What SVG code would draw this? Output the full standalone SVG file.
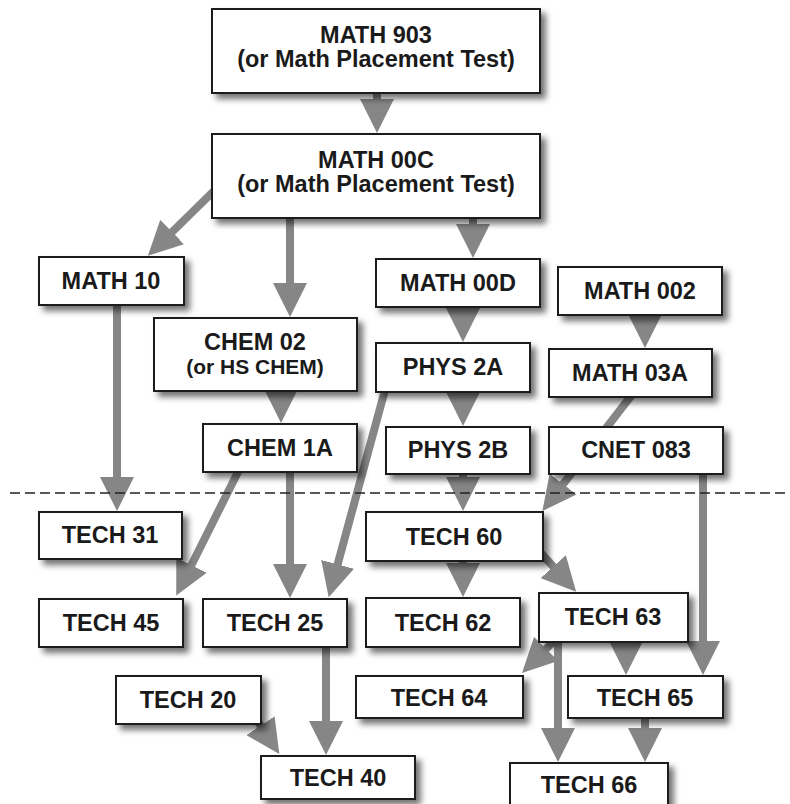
<svg xmlns="http://www.w3.org/2000/svg" width="790" height="804" viewBox="0 0 790 804">
<style>
.box{fill:#fff;stroke:#1e1e1e;stroke-width:2;filter:url(#sh)}
.t{font-family:"Liberation Sans",Arial,sans-serif;font-weight:bold;font-size:23.5px;fill:#1a1a1a;text-anchor:middle}
.s{font-size:21px}
.c line{stroke:#868686;stroke-width:8;marker-end:url(#ah)}
.sep{stroke:#222;stroke-width:1.6;stroke-dasharray:10 5;fill:none}
</style>
<defs>
<filter id="sh" x="-20%" y="-30%" width="150%" height="170%">
<feDropShadow dx="5" dy="5" stdDeviation="3" flood-color="#000" flood-opacity="0.55"/>
</filter>
<marker id="ah" markerUnits="userSpaceOnUse" markerWidth="34" markerHeight="34" viewBox="0 0 34 34" refX="10" refY="17" orient="auto">
<path d="M0,0 L34,17 L0,34 z" fill="#868686"/>
</marker>
</defs>
<rect width="790" height="804" fill="#fff"/>
<g id="connectors" class="c">
<line x1="377" y1="93" x2="377" y2="109"/>
<line x1="225" y1="180" x2="165" y2="239"/>
<line x1="290" y1="218" x2="290" y2="293"/>
<line x1="473" y1="218" x2="473" y2="234"/>
<line x1="117" y1="305" x2="117" y2="487"/>
<line x1="463" y1="307" x2="463" y2="318"/>
<line x1="645" y1="315" x2="645" y2="324"/>
<line x1="281" y1="391" x2="281" y2="399"/>
<line x1="463" y1="392" x2="463" y2="402"/>
<line x1="634" y1="392" x2="557" y2="492"/>
<line x1="463" y1="474" x2="463" y2="487"/>
<line x1="703" y1="474" x2="703" y2="651"/>
<line x1="240" y1="468" x2="187" y2="574"/>
<line x1="290" y1="472" x2="290" y2="574"/>
<line x1="385" y1="390" x2="335" y2="574"/>
<line x1="463" y1="561" x2="463" y2="573"/>
<line x1="530" y1="541" x2="560" y2="574"/>
<line x1="575" y1="620" x2="539" y2="656"/>
<line x1="558" y1="642" x2="558" y2="738"/>
<line x1="626" y1="642" x2="626" y2="651"/>
<line x1="645" y1="718" x2="645" y2="738"/>
<line x1="326" y1="647" x2="326" y2="731"/>
<line x1="250" y1="710" x2="266" y2="734"/>
</g>
<line class="sep" x1="10" y1="493" x2="790" y2="493"/>
<g id="math903"><rect class="box" x="212" y="9" width="328" height="84"/><text class="t" x="376" y="43">MATH 903</text><text class="t" x="376" y="67">(or Math Placement Test)</text></g>
<g id="math00c"><rect class="box" x="212" y="134" width="328" height="84"/><text class="t" x="376" y="168">MATH 00C</text><text class="t" x="376" y="192">(or Math Placement Test)</text></g>
<g id="math10"><rect class="box" x="39" y="257" width="145" height="48"/><text class="t" x="111" y="289">MATH 10</text></g>
<g id="math00d"><rect class="box" x="376" y="259" width="164" height="48"/><text class="t" x="458" y="291">MATH 00D</text></g>
<g id="math002"><rect class="box" x="558" y="267" width="164" height="48"/><text class="t" x="640" y="299">MATH 002</text></g>
<g id="chem02"><rect class="box" x="154" y="318" width="203" height="73"/><text class="t" x="255" y="350">CHEM 02</text><text class="t s" x="255" y="374">(or HS CHEM)</text></g>
<g id="phys2a"><rect class="box" x="376" y="343" width="154" height="49"/><text class="t" x="453" y="375">PHYS 2A</text></g>
<g id="math03a"><rect class="box" x="549" y="349" width="163" height="48"/><text class="t" x="630" y="381">MATH 03A</text></g>
<g id="chem1a"><rect class="box" x="203" y="424" width="154" height="48"/><text class="t" x="280" y="456">CHEM 1A</text></g>
<g id="phys2b"><rect class="box" x="386" y="427" width="144" height="47"/><text class="t" x="458" y="458">PHYS 2B</text></g>
<g id="cnet083"><rect class="box" x="549" y="427" width="174" height="47"/><text class="t" x="636" y="458">CNET 083</text></g>
<g id="tech31"><rect class="box" x="39" y="512" width="143" height="47"/><text class="t" x="110" y="543">TECH 31</text></g>
<g id="tech60"><rect class="box" x="366" y="512" width="177" height="49"/><text class="t" x="454" y="545">TECH 60</text></g>
<g id="tech45"><rect class="box" x="39" y="599" width="144" height="48"/><text class="t" x="111" y="631">TECH 45</text></g>
<g id="tech25"><rect class="box" x="203" y="599" width="144" height="48"/><text class="t" x="275" y="631">TECH 25</text></g>
<g id="tech62"><rect class="box" x="366" y="598" width="154" height="49"/><text class="t" x="443" y="631">TECH 62</text></g>
<g id="tech63"><rect class="box" x="539" y="593" width="149" height="49"/><text class="t" x="613" y="625">TECH 63</text></g>
<g id="tech64"><rect class="box" x="356" y="676" width="167" height="42"/><text class="t" x="439" y="706">TECH 64</text></g>
<g id="tech65"><rect class="box" x="568" y="676" width="155" height="42"/><text class="t" x="645" y="706">TECH 65</text></g>
<g id="tech20"><rect class="box" x="116" y="676" width="145" height="48"/><text class="t" x="188" y="708">TECH 20</text></g>
<g id="tech40"><rect class="box" x="261" y="756" width="154" height="43"/><text class="t" x="338" y="786">TECH 40</text></g>
<g id="tech66"><rect class="box" x="510" y="763" width="158" height="44"/><text class="t" x="589" y="793">TECH 66</text></g>
</svg>
